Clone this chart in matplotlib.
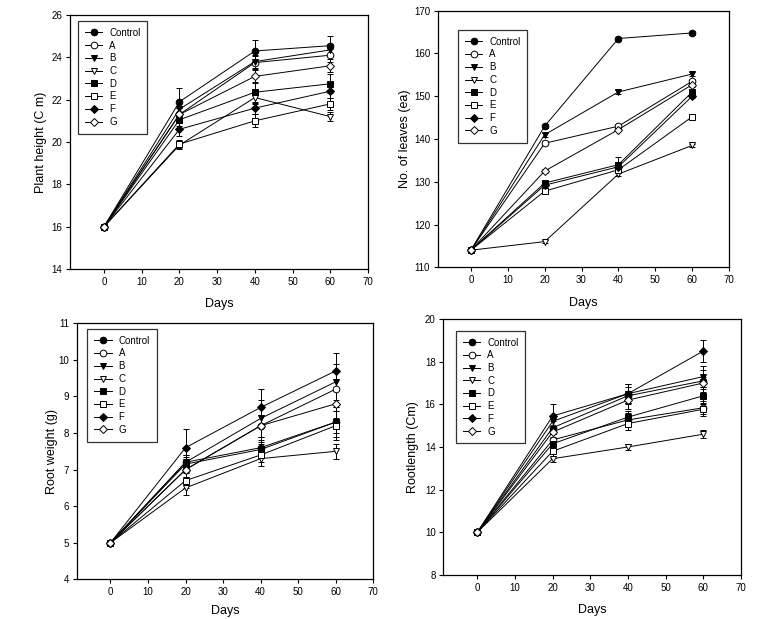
import matplotlib
matplotlib.use("Agg")
import matplotlib.pyplot as plt
from matplotlib.lines import Line2D

plt.rcParams['font.family'] = ['Liberation Sans', 'DejaVu Sans']

days = [0, 20, 40, 60]
series = ["Control", "A", "B", "C", "D", "E", "F", "G"]

# Plant height (cm)
ph = {
    "Control": [16, 21.9, 24.3, 24.55],
    "A": [16, 21.3, 23.75, 24.1],
    "B": [16, 21.55, 23.8, 24.35],
    "C": [16, 19.85, 22.1, 21.2],
    "D": [16, 21.05, 22.35, 22.75],
    "E": [16, 19.9, 21.0, 21.8],
    "F": [16, 20.6, 21.6, 22.4],
    "G": [16, 21.3, 23.1, 23.6],
}
ph_err = {
    "Control": [0, 0.65, 0.5, 0.45],
    "A": [0, 0.3, 0.3, 0.3],
    "B": [0, 0.3, 0.3, 0.3],
    "C": [0, 0.2, 0.3, 0.2],
    "D": [0, 0.3, 0.5, 0.45],
    "E": [0, 0.2, 0.3, 0.3],
    "F": [0, 0.3, 0.3, 0.3],
    "G": [0, 0.3, 0.3, 0.3],
}

# Number of leaves (ea)
nl = {
    "Control": [114, 143, 163.5, 164.8],
    "A": [114, 139, 143, 153.5],
    "B": [114, 141, 151, 155.2],
    "C": [114, 116, 131.8, 138.5],
    "D": [114, 129.7, 134, 151],
    "E": [114, 127.8, 132.8, 145.2],
    "F": [114, 129.2, 133.5, 150],
    "G": [114, 132.5, 142.2, 152.7],
}
nl_err = {
    "Control": [0, 0.5, 0.4, 0.4],
    "A": [0, 0.5, 0.5, 0.5],
    "B": [0, 0.5, 0.4, 0.4],
    "C": [0, 0.3, 0.5, 0.4],
    "D": [0, 0.5, 1.8, 0.5],
    "E": [0, 0.5, 0.5, 0.5],
    "F": [0, 0.5, 0.5, 0.5],
    "G": [0, 0.4, 0.4, 0.5],
}

# Root weight (g)
rw = {
    "Control": [5, 7.2, 7.6, 8.3],
    "A": [5, 7.0, 8.2, 9.2],
    "B": [5, 7.2, 8.4, 9.4],
    "C": [5, 6.5, 7.3, 7.5],
    "D": [5, 7.15, 7.55, 8.3],
    "E": [5, 6.7, 7.4, 8.2],
    "F": [5, 7.6, 8.7, 9.7],
    "G": [5, 7.0, 8.2, 8.8],
}
rw_err = {
    "Control": [0, 0.2, 0.2, 0.3],
    "A": [0, 0.2, 0.3, 0.5],
    "B": [0, 0.2, 0.5, 0.5],
    "C": [0, 0.2, 0.2, 0.2],
    "D": [0, 0.2, 0.2, 0.4],
    "E": [0, 0.2, 0.2, 0.4],
    "F": [0, 0.5, 0.5, 0.5],
    "G": [0, 0.2, 0.5, 0.4],
}

# Root length (cm)
rl = {
    "Control": [10, 14.9, 16.4, 17.1],
    "A": [10, 14.33, 15.27, 15.84],
    "B": [10, 15.2, 16.5, 17.3],
    "C": [10, 13.45, 14.0, 14.6],
    "D": [10, 14.15, 15.4, 16.4],
    "E": [10, 13.8, 15.1, 15.77],
    "F": [10, 15.45, 16.5, 18.5],
    "G": [10, 14.7, 16.2, 17.0],
}
rl_err = {
    "Control": [0, 0.3, 0.4, 0.5],
    "A": [0, 0.3, 0.3, 0.3],
    "B": [0, 0.3, 0.45, 0.5],
    "C": [0, 0.15, 0.15, 0.2],
    "D": [0, 0.3, 0.3, 0.4],
    "E": [0, 0.3, 0.3, 0.3],
    "F": [0, 0.55, 0.45, 0.5],
    "G": [0, 0.3, 0.4, 0.3],
}

styles = {
    "Control": ("o", "black"),
    "A": ("o", "white"),
    "B": ("v", "black"),
    "C": ("v", "white"),
    "D": ("s", "black"),
    "E": ("s", "white"),
    "F": ("D", "black"),
    "G": ("D", "white"),
}

fig = plt.figure(figsize=(7.67, 6.19), dpi=100)

panels = [
    # rect, data, err, ylim, yticks, ylabel, legend anchor, ylabel x, xlabel pad
    ([0.0913, 0.5654, 0.3885, 0.4104], ph, ph_err, (14, 26), range(14, 27, 2),
     "Plant height (C m)", (0.027, 0.976), -0.077, 8.5),
    ([0.5707, 0.5682, 0.3798, 0.4145], nl, nl_err, (110, 170), range(110, 171, 10),
     "No. of leaves (ea)", (0.07, 0.925), -0.093, 8.5),
    ([0.1000, 0.0641, 0.3867, 0.4136], rw, rw_err, (4, 11), range(4, 12, 1),
     "Root weight (g)", (0.036, 0.978), -0.063, 5.5),
    ([0.5780, 0.0711, 0.3882, 0.4136], rl, rl_err, (8, 20), range(8, 21, 2),
     "Rootlength (Cm)", (0.043, 0.954), -0.082, 8.0),
]

for rect, data, err, ylim, yticks, ylabel, lpos, ylx, xlp in panels:
    ax = fig.add_axes(rect)
    for s in series:
        m, fc = styles[s]
        ms = 4.8 if m != "D" else 4.3
        ax.errorbar(days, data[s], yerr=err[s], color="black", lw=0.7,
                    marker=m, markersize=ms, markerfacecolor=fc,
                    markeredgecolor="black", markeredgewidth=0.7,
                    capsize=2.5, elinewidth=0.7, capthick=0.7, zorder=3)
    ax.set_xlim(-9, 70)
    ax.set_ylim(*ylim)
    ax.set_xticks(range(0, 71, 10))
    ax.set_yticks(list(yticks))
    ax.tick_params(direction="out", length=3, width=0.8, labelsize=7,
                   top=False, right=False, pad=2.5)
    for sp in ax.spines.values():
        sp.set_linewidth(0.9)
    ax.set_xlabel("Days", fontsize=9, labelpad=xlp)
    ax.set_ylabel(ylabel, fontsize=9)
    ax.yaxis.set_label_coords(ylx, 0.5)

    handles = []
    for s in series:
        m, fc = styles[s]
        ms = 4.8 if m != "D" else 4.3
        handles.append(Line2D([0], [0], color="black", lw=0.7, marker=m,
                              markersize=ms, markerfacecolor=fc,
                              markeredgecolor="black", markeredgewidth=0.7))
    leg = ax.legend(handles, series, loc="upper left", bbox_to_anchor=lpos,
                    fontsize=7, frameon=True, fancybox=False,
                    edgecolor="black", handlelength=1.8, handletextpad=0.7,
                    labelspacing=0.28, borderpad=0.7, borderaxespad=0.0)
    leg.get_frame().set_linewidth(0.9)

fig.savefig("out.png", dpi=100)
